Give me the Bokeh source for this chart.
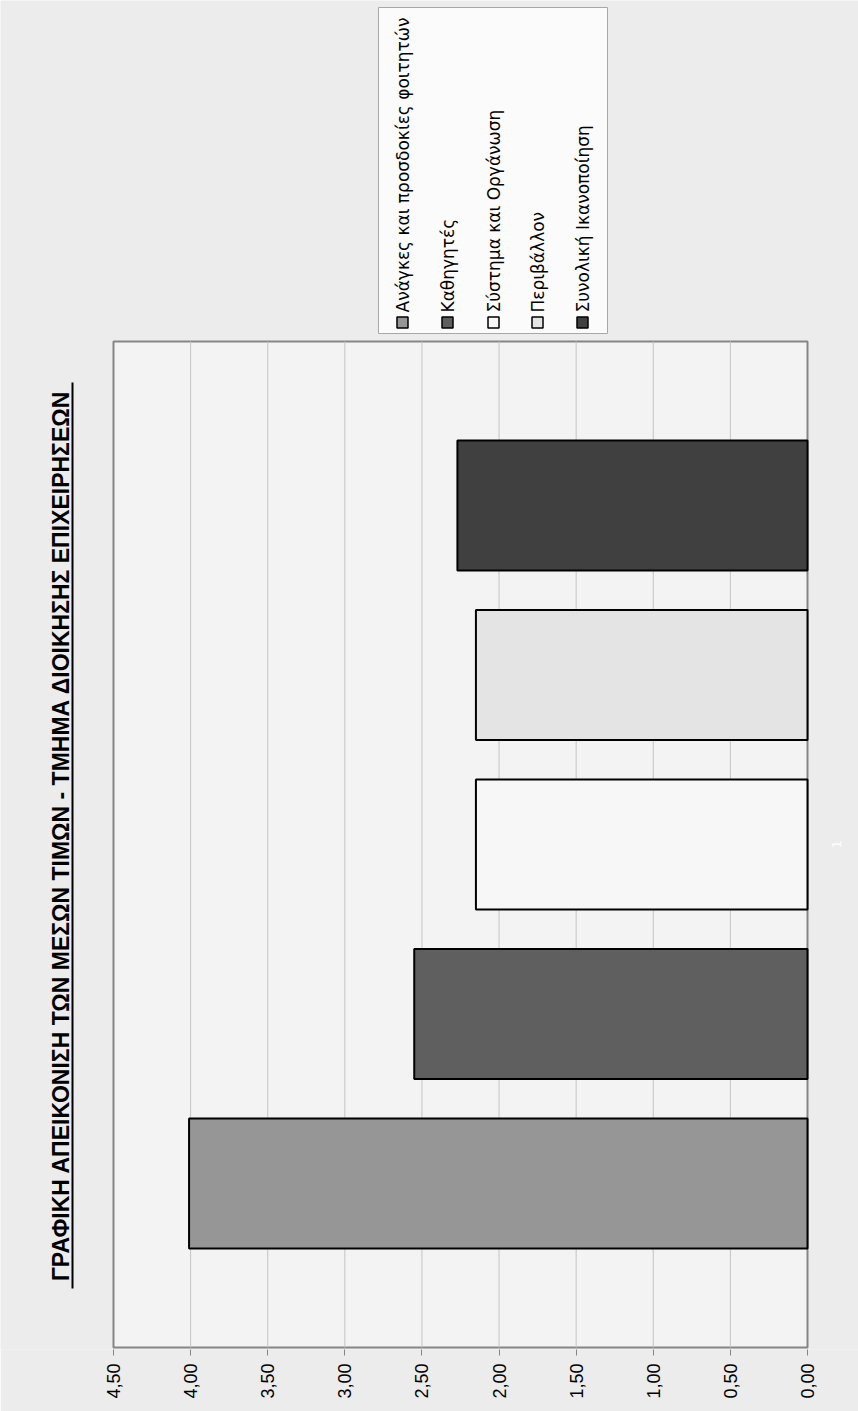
from math import pi
from bokeh.plotting import figure
from bokeh.models import Range1d, FixedTicker
from bokeh.core.properties import value
from bokeh.embed import file_html
from bokeh.resources import INLINE

# ---------------- data ----------------
TITLE = "ΓΡΑΦΙΚΗ ΑΠΕΙΚΟΝΙΣΗ ΤΩΝ ΜΕΣΩΝ ΤΙΜΩΝ - ΤΜΗΜΑ ΔΙΟΙΚΗΣΗΣ ΕΠΙΧΕΙΡΗΣΕΩΝ"
CATEGORY = ["1"]
SERIES = [
    "Ανάγκες και προσδοκίες φοιτητών",
    "Καθηγητές",
    "Σύστημα και Οργάνωση",
    "Περιβάλλον",
    "Συνολική Ικανοποίηση",
]
VALUES = [4.01, 2.55, 2.15, 2.15, 2.27]
COLORS = ["#969696", "#5f5f5f", "#f7f7f7", "#e4e4e4", "#404040"]
TICKS = [0.0, 0.5, 1.0, 1.5, 2.0, 2.5, 3.0, 3.5, 4.0, 4.5]
TICK_LABELS = ["0,00", "0,50", "1,00", "1,50", "2,00", "2,50", "3,00", "3,50", "4,00", "4,50"]

# ---------------- layout (page pixels) ----------------
W, H = 858, 1411
FRAME_BOTTOM_PX = 1349
X_ZERO_PX, X_MAX_PX = 807, 113
PX_PER_UNIT = (X_ZERO_PX - X_MAX_PX) / TICKS[-1]
BAR_STEP_PX = 169.5
FIRST_BAR_PX = 1183
FONT = value("Liberation Sans")
LEGEND_FONT = value("DejaVu Sans")


def xv(px):
    return (X_ZERO_PX - px) / PX_PER_UNIT


def yv(py):
    return (FIRST_BAR_PX - py) / BAR_STEP_PX


p = figure(
    width=W, height=H,
    x_range=Range1d(xv(0), xv(W)),
    y_range=Range1d(yv(FRAME_BOTTOM_PX), yv(0)),
    output_backend="svg", toolbar_location=None,
    y_axis_location=None,
)
p.min_border = 0
p.min_border_bottom = H - FRAME_BOTTOM_PX
p.outline_line_color = None
p.background_fill_color = "#ececec"
p.border_fill_color = "#ececec"
p.grid.visible = False

# chart frame
fb, ft = yv(1347), yv(341)
p.quad(left=[TICKS[-1]], right=[TICKS[0]], bottom=[fb], top=[ft],
       fill_color="#f3f3f3", line_color="#858585", line_width=2)
# gridlines from tick values
inner = TICKS[1:-1]
p.segment(x0=inner, x1=inner, y0=[fb] * len(inner), y1=[ft] * len(inner),
          line_color="#c4c4c4", line_width=1)

# bars
idx = list(range(len(VALUES)))
p.hbar(y=idx, left=0, right=VALUES, height=130 / BAR_STEP_PX,
       fill_color=COLORS, line_color="#000000", line_width=2)

# category label
p.text(x=[xv(836)], y=[yv(844)], text=CATEGORY, angle=pi / 2,
       text_align="center", text_baseline="middle", text_color="#ffffff",
       text_font=FONT, text_font_size="13px")

# title (rotated, underlined)
p.text(x=[xv(60)], y=[yv(835)], text=[TITLE], angle=pi / 2,
       text_align="center", text_baseline="middle", text_color="#000000",
       text_font=FONT, text_font_size="23px", text_font_style="bold")
p.segment(x0=[xv(72)], x1=[xv(72)], y0=[yv(1288)], y1=[yv(382)],
          line_color="#000000", line_width=2)

# legend (rotated)
p.quad(left=[xv(378)], right=[xv(607)], bottom=[yv(333)], top=[yv(7)],
       fill_color="#fbfbfb", line_color="#a8a8a8", line_width=1)
leg_x_px = [402, 447, 493, 537, 582]
leg_x = [xv(v) for v in leg_x_px]
p.rect(x=leg_x, y=[yv(322)] * len(SERIES), width=11, height=11,
       width_units="screen", height_units="screen",
       fill_color=COLORS, line_color="#000000", line_width=1.5)
p.text(x=leg_x, y=[yv(312)] * len(SERIES), text=SERIES, angle=pi / 2,
       text_align="left", text_baseline="middle", text_color="#000000",
       text_font=LEGEND_FONT, text_font_size="17px")

# value axis
ax = p.xaxis[0]
ax.ticker = FixedTicker(ticks=TICKS)
ax.major_label_overrides = {t: l for t, l in zip(TICKS, TICK_LABELS)}
ax.major_label_orientation = pi / 2
ax.major_label_text_font = "Liberation Sans"
ax.major_label_text_font_size = "18px"
ax.major_label_text_color = "#000000"
ax.major_label_standoff = 8
ax.axis_line_color = None
ax.major_tick_line_color = "#858585"
ax.major_tick_in = 0
ax.major_tick_out = 6
ax.minor_tick_line_color = None

open("out.html", "w").write(file_html(p, INLINE))
